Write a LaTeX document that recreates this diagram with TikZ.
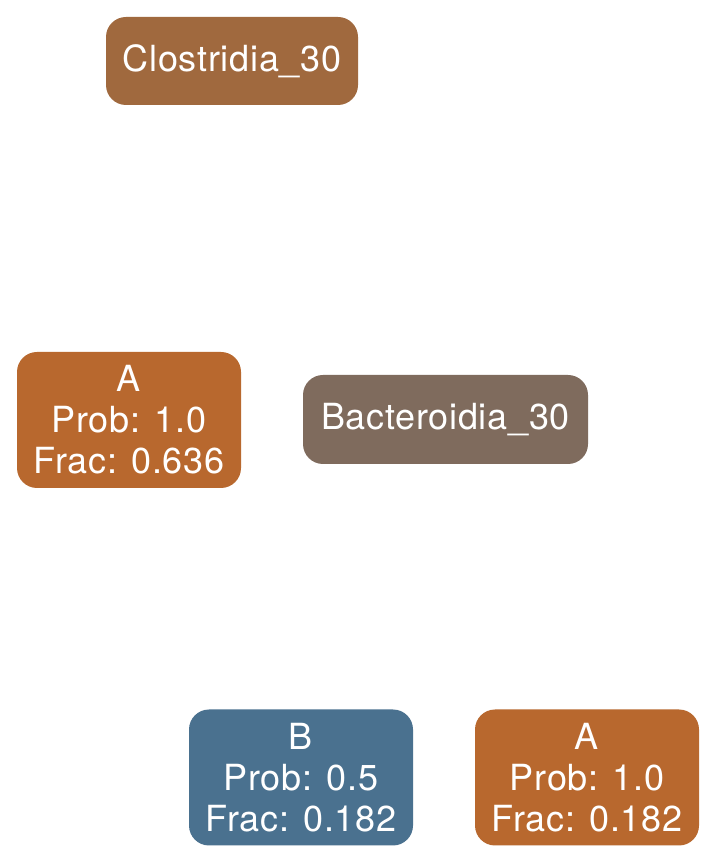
\documentclass[tikz,border=0pt]{standalone}
\usepackage{fontspec}
\setmainfont{TeX Gyre Heros}[LetterSpace=2]
\definecolor{clos}{HTML}{A0693E}
\definecolor{orA}{HTML}{B8682E}
\definecolor{bact}{HTML}{7F6B5D}
\definecolor{blB}{HTML}{4A718F}
\tikzset{
  box/.style={rectangle, rounded corners=20pt, draw=none, inner sep=0pt,
    text=white, align=center, font=\fontsize{36}{41}\selectfont},
  wide/.style={box, minimum width=224pt, minimum height=136pt}
}
\begin{document}
\begin{tikzpicture}[x=1pt,y=1pt]
\useasboundingbox[fill=white] (0,0) rectangle (717,863);
\node[box, fill=clos, minimum width=252pt, minimum height=88pt] (clos) at (232,802) {Clostridia\_30};
\node[wide, fill=orA] (a1) at (129,443) {A\\Prob: 1.0\\Frac: 0.636};
\node[box, fill=bact, minimum width=285pt, minimum height=89pt] (bact) at (445.5,443.5) {Bacteroidia\_30};
\node[wide, fill=blB] (b) at (301,85.5) {B\\Prob: 0.5\\Frac: 0.182};
\node[wide, fill=orA] (a2) at (587,85.5) {A\\Prob: 1.0\\Frac: 0.182};
\end{tikzpicture}
\end{document}
